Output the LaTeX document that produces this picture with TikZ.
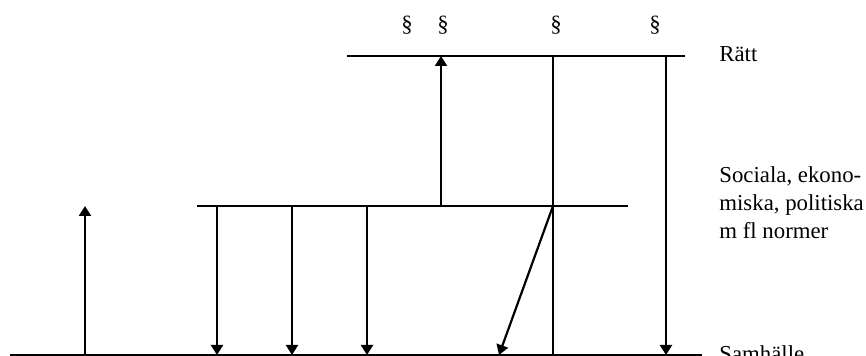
\documentclass[tikz,border=0pt]{standalone}
\usepackage{fontspec}
\setmainfont{Liberation Serif}
\usetikzlibrary{arrows.meta}

\tikzset{
  niva/.style={line width=0.8pt},
  pil/.style={->, line width=1.1pt},
  etikett/.style={inner sep=0pt, anchor=west}
}

\begin{document}
\begin{tikzpicture}[x=0.5pt, y=-0.5pt, >={Triangle[length=5pt,width=6pt]},
    font=\fontsize{11.4}{14}\selectfont]
        \useasboundingbox (0,0) rectangle (866,356);

        % nivåer
        \coordinate (r1) at (347,56);  \coordinate (r2) at (685,56);
        \coordinate (n1) at (197,206); \coordinate (n2) at (628,206);
        \coordinate (s1) at (10,355);  \coordinate (s2) at (702,355);
        \draw[niva] (r1) -- (r2);
        \draw[niva] (n1) -- (n2);
        \draw[niva] (s1) -- (s2);

        % paragrafer
        \node (p1) at (407,25) {§};
        \node (p2) at (443,25) {§};
        \node (p3) at (556,25) {§};
        \node (p4) at (655,25) {§};

        % texter
        \node[etikett] (ratt) at (719,54) {Rätt};
        \node[etikett, anchor=north west, align=left] (normer) at (719,166)
            {Sociala, ekono-\\miska, politiska\\m fl normer};
        \node[etikett, anchor=base west] (samh) at (719,362) {Samhälle};

        % samband
        \draw[pil] (441,0 |- n1) -- (441,0 |- r1);
        \draw[niva, line width=0.9pt] (553,0 |- r1) coordinate (k) -- (553,0 |- s1);
        \draw[pil] (666,0 |- r1) -- (666,0 |- s1);
        \foreach \x in {217,292,367}
            \draw[pil] (\x,0 |- n1) -- (\x,0 |- s1);
        \draw[pil] (k |- n1) -- (499,0 |- s1);
        \draw[pil] (85,0 |- s1) -- (85,0 |- n1);
    \end{tikzpicture}
\end{document}
